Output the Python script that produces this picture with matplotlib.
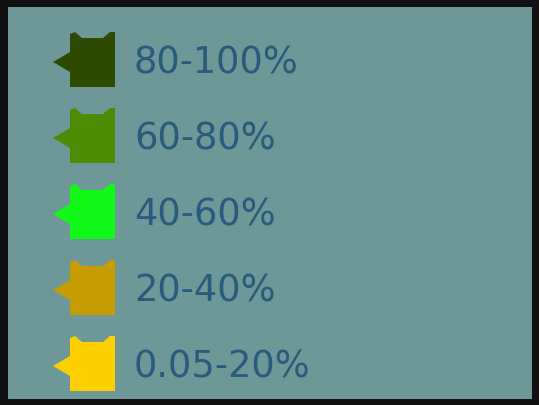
import matplotlib
matplotlib.use("Agg")
import matplotlib.pyplot as plt
from matplotlib.patches import Polygon, Rectangle

# legend classes, top to bottom
labels = ['80-100%', '60-80%', '40-60%', '20-40%', '0.05-20%']
colors = ['#2c4a02', '#4e8a04', '#10f818', '#c49c00', '#ffd000']

W, H = 539, 406
fig = plt.figure(figsize=(W/100, H/100), dpi=100, facecolor='#111111')
ax = fig.add_axes([0, 0, 1, 1])
ax.set_xlim(0, W)
ax.set_ylim(H, 0)
ax.axis('off')

# teal panel inside the black frame
ax.add_patch(Rectangle((8, 8), 524, 392, facecolor='#6e9898', edgecolor='none'))

# swatch outline: square with notch on top and a point on the left
shape = [(0, 2), (5, 0), (12, 6), (33, 6), (40, 0), (45, 0), (45, 55),
         (0, 55), (0, 40), (-17, 30), (0, 20)]

top0 = 33
step = 76
for i, (lab, c) in enumerate(zip(labels, colors)):
    y0 = top0 + i*step
    pts = [(70 + dx, y0 + dy) for dx, dy in shape]
    ax.add_patch(Polygon(pts, closed=True, facecolor=c, edgecolor='none'))
    ax.text(134, y0 + 30, lab, fontsize=26.5, color='#2a5a7c',
            va='center', ha='left', family='DejaVu Sans')

fig.savefig('out.png', dpi=100, facecolor=fig.get_facecolor())
